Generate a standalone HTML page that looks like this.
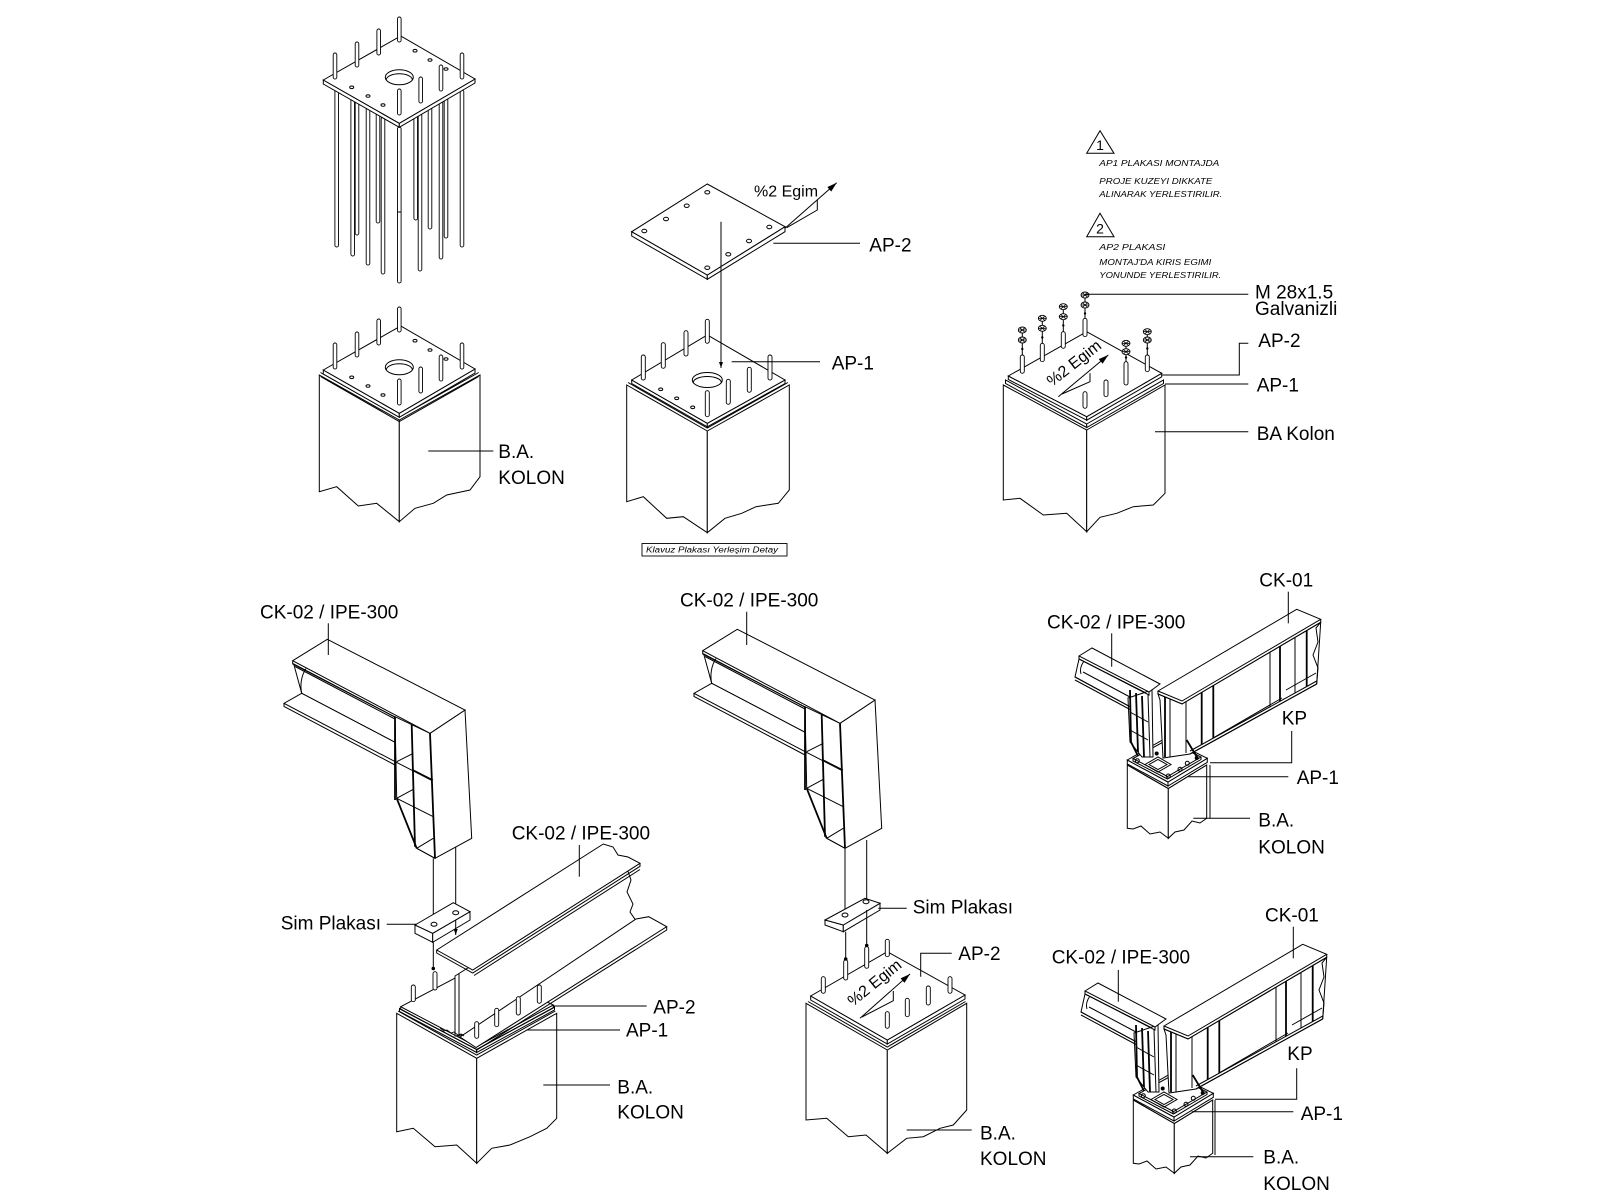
<!DOCTYPE html>
<html><head><meta charset="utf-8"><title>Ankraj Detaylari</title>
<style>
html,body{margin:0;padding:0;background:#fff;}
svg{display:block;}
text{font-family:"Liberation Sans",Arial,sans-serif;fill:#000;stroke:none;}
.l{font-size:19px;}
.n{font-size:8px;font-style:italic;}
.e{font-size:16px;}
.s{fill:#fff;stroke:#000;stroke-width:0.9;}
.w{fill:#fff;}
.t{stroke-width:1.8;}
.h{fill:none;stroke:#000;stroke-width:0.8;}
</style></head><body>
<svg width="1600" height="1200" viewBox="0 0 1600 1200" xmlns="http://www.w3.org/2000/svg" xmlns:xlink="http://www.w3.org/1999/xlink">
<defs>
<marker id="ah" markerUnits="userSpaceOnUse" markerWidth="10" markerHeight="8" refX="10" refY="4" orient="auto"><path d="M0,1 L10,4 L0,7z" fill="#000" stroke="none"/></marker>
<marker id="ah2" markerUnits="userSpaceOnUse" markerWidth="6" markerHeight="5" refX="6" refY="2.5" orient="auto"><path d="M0,0.5 L6,2.5 L0,4.5z" fill="#000" stroke="none"/></marker>
<g id="nut"><ellipse rx="4" ry="3" fill="#fff" stroke="#000" stroke-width="0.9"/><path d="M-4,0H4M-2.6,-2.2L2.6,2.2M-2.6,2.2L2.6,-2.2" stroke="#000" stroke-width="0.8" fill="none"/></g>
</defs>
<rect width="1600" height="1200" fill="#fff"/>

<g fill="none" stroke="#000" stroke-width="1">

<!-- ============ DRAWING 1 : anchor cage ============ -->
<g>
<rect class="s" x="355.2" y="100" width="3.6" height="135" rx="1.8"/>
<rect class="s" x="376.2" y="113" width="3.6" height="110" rx="1.8"/>
<rect class="s" x="413.9" y="113" width="3.6" height="107" rx="1.8"/>
<rect class="s" x="428.2" y="107" width="3.6" height="122" rx="1.8"/>
<rect class="s" x="444.2" y="97" width="3.6" height="141" rx="1.8"/>
<rect class="s" x="334.9" y="82" width="3.6" height="165" rx="1.8"/>
<rect class="s" x="350.9" y="97" width="3.6" height="159" rx="1.8"/>
<rect class="s" x="366.2" y="107" width="3.6" height="158" rx="1.8"/>
<rect class="s" x="381.2" y="117" width="3.6" height="157" rx="1.8"/>
<rect class="s" x="397.5" y="127" width="3.6" height="156" rx="1.8"/>
<rect class="s" x="418.2" y="110" width="3.6" height="161" rx="1.8"/>
<rect class="s" x="439.2" y="100" width="3.6" height="159" rx="1.8"/>
<rect class="s" x="460.2" y="90" width="3.6" height="157" rx="1.8"/>
<line x1="397.5" y1="212" x2="401.1" y2="212"/>
</g>
<g id="pl1">
<polygon class="w" points="323.3,80 399.3,123.3 399.3,127.3 323.3,84"/>
<polygon class="w" points="399.3,123.3 475,79 475,83 399.3,127.3"/>
<polygon class="w" points="323.3,80 400.7,36 475,79 399.3,123.3"/>
<ellipse cx="399.3" cy="77.3" rx="14" ry="7.5"/>
<path d="M386.3,79.8 A13,6 0 0 1 412.3,79.8"/>
<ellipse cx="415" cy="50.7" rx="2" ry="1.3"/>
<ellipse cx="430" cy="60" rx="2" ry="1.3"/>
<ellipse cx="446" cy="69" rx="2" ry="1.3"/>
<ellipse cx="351.7" cy="87.3" rx="2" ry="1.3"/>
<ellipse cx="368" cy="96" rx="2" ry="1.3"/>
<ellipse cx="383" cy="105" rx="2" ry="1.3"/>
<rect class="s" x="397.5" y="17" width="3.6" height="25" rx="1.8"/>
<rect class="s" x="376.9" y="29" width="3.6" height="26" rx="1.8"/>
<rect class="s" x="355.2" y="42" width="3.6" height="25" rx="1.8"/>
<rect class="s" x="333.2" y="53" width="3.6" height="26" rx="1.8"/>
<rect class="s" x="460.2" y="53" width="3.6" height="26" rx="1.8"/>
<rect class="s" x="439.2" y="65" width="3.6" height="26" rx="1.8"/>
<rect class="s" x="418.9" y="77" width="3.6" height="26" rx="1.8"/>
<rect class="s" x="397.5" y="89" width="3.6" height="26" rx="1.8"/>
</g>

<!-- ============ DRAWING 2 : column with plate ============ -->
<polygon class="w" points="319.3,375 399.3,420 399.3,521.7 376.7,503.3 358.3,506 336.7,486.7 319.3,491.7"/>
<polygon class="w" points="399.3,420 480,375 480,476.7 470,490 446.7,495 433.3,503.3 415,508.3 399.3,521.7"/>
<polyline points="320.5,376.5 399.3,421.5 478.7,376.5"/>
<polyline points="320.5,372.5 399.3,417 478.7,372.5"/>
<use xlink:href="#pl1" href="#pl1" x="0" y="290"/>
<line x1="428.3" y1="451" x2="493.3" y2="451"/>
<text class="l" x="498.3" y="458">B.A.</text>
<text class="l" x="498.3" y="484">KOLON</text>

<!-- ============ DRAWING 3 : AP-2 over AP-1 ============ -->
<polygon class="w" points="631.7,231.7 707.3,275 707.3,279.3 631.7,236"/>
<polygon class="w" points="707.3,275 785,226.7 785,231.7 707.3,279.3"/>
<polygon class="w" points="631.7,231.7 707.3,184 785,226.7 707.3,275"/>
<ellipse cx="707.3" cy="192.3" rx="2.5" ry="1.7"/>
<ellipse cx="686.7" cy="205.7" rx="2.5" ry="1.7"/>
<ellipse cx="666" cy="219" rx="2.5" ry="1.7"/>
<ellipse cx="644.3" cy="231" rx="2.5" ry="1.7"/>
<ellipse cx="769.3" cy="227" rx="2.5" ry="1.7"/>
<ellipse cx="749" cy="241" rx="2.5" ry="1.7"/>
<ellipse cx="728.3" cy="254.3" rx="2.5" ry="1.7"/>
<ellipse cx="707.3" cy="267.7" rx="2.5" ry="1.7"/>
<line x1="785" y1="228.3" x2="836.7" y2="182.7" marker-end="url(#ah)"/>
<polyline points="786.7,227.7 817.3,210 817.3,200"/>
<text class="e" x="754" y="196.5">%2 Egim</text>
<line x1="773.3" y1="243.3" x2="860" y2="243.3"/>
<text class="l" x="869.3" y="251.5">AP-2</text>

<polygon class="w" points="626.7,385 707.3,431 707.3,532.7 683.3,516.7 666.7,518.3 643.3,496.7 626.7,501.7"/>
<polygon class="w" points="707.3,431 789.3,385 789.3,490 778.3,503.3 756,506.7 741.7,513.3 725,518.3 707.3,532.7"/>
<polyline points="628,382.5 707.3,428 788,382.5"/>
<polygon class="w" points="631.7,380 707.3,423.3 707.3,426.8 631.7,383.5"/>
<polygon class="w" points="707.3,423.3 785,380 785,383.5 707.3,426.8"/>
<polygon class="w" points="631.7,380 707.3,335 785,380 707.3,423.3"/>
<ellipse cx="707.3" cy="380" rx="15" ry="7.5"/>
<path d="M693.3,382.5 A14,6 0 0 1 721.3,382.5"/>
<ellipse cx="660.7" cy="389.3" rx="2" ry="1.3"/>
<ellipse cx="676.7" cy="398.3" rx="2" ry="1.3"/>
<ellipse cx="692.7" cy="407.3" rx="2" ry="1.3"/>
<rect class="s" x="705.3" y="319.3" width="4" height="24" rx="2"/>
<rect class="s" x="684" y="330.7" width="4" height="25.3" rx="2"/>
<rect class="s" x="661.3" y="342.7" width="4" height="25.6" rx="2"/>
<rect class="s" x="641.3" y="355" width="4" height="25" rx="2"/>
<rect class="s" x="768" y="355" width="4" height="25" rx="2"/>
<rect class="s" x="747.3" y="367.3" width="4" height="25" rx="2"/>
<rect class="s" x="726.3" y="379.3" width="4" height="25" rx="2"/>
<rect class="s" x="705.3" y="390.7" width="4" height="26" rx="2"/>
<line x1="721" y1="221.7" x2="721" y2="368" marker-end="url(#ah2)"/>
<line x1="731.7" y1="361.7" x2="820" y2="361.7"/>
<text class="l" x="831.7" y="369.3">AP-1</text>
<rect x="642" y="543.5" width="145" height="12.5" stroke-width="0.9"/>
<text class="n" x="646" y="552.5" textLength="132" lengthAdjust="spacingAndGlyphs">Klavuz Plakası Yerleşim Detay</text>

<!-- ============ DRAWING 4 : notes + bolted column ============ -->
<polygon points="1086.7,153.3 1100,130.7 1114,153.3"/>
<text x="1100" y="150" font-size="14" text-anchor="middle">1</text>
<text class="n" x="1099.3" y="166" textLength="120" lengthAdjust="spacingAndGlyphs">AP1 PLAKASI MONTAJDA</text>
<text class="n" x="1099.3" y="184" textLength="113" lengthAdjust="spacingAndGlyphs">PROJE KUZEYI DIKKATE</text>
<text class="n" x="1099.3" y="197" textLength="123" lengthAdjust="spacingAndGlyphs">ALINARAK YERLESTIRILIR.</text>
<polygon points="1086.7,236.7 1100,213.3 1114,236.7"/>
<text x="1100" y="233.5" font-size="14" text-anchor="middle">2</text>
<text class="n" x="1099.3" y="250" textLength="66" lengthAdjust="spacingAndGlyphs">AP2 PLAKASI</text>
<text class="n" x="1099.3" y="265" textLength="112" lengthAdjust="spacingAndGlyphs">MONTAJ'DA KIRIS EGIMI</text>
<text class="n" x="1099.3" y="278" textLength="122" lengthAdjust="spacingAndGlyphs">YONUNDE YERLESTIRILIR.</text>

<polygon class="w" points="1003.3,385 1086.7,430 1086.7,531.7 1066.7,513.3 1043.3,515 1020,498.3 1003.3,500"/>
<polygon class="w" points="1086.7,430 1165,385 1165,493.3 1153.3,505 1133.3,506.7 1116.7,513.3 1100,517.3 1086.7,531.7"/>
<polygon class="w" points="1005.5,380 1086.7,424 1086.7,427.5 1005.5,383.5"/>
<polygon class="w" points="1086.7,424 1163.5,380 1163.5,383.5 1086.7,427.5"/>
<polygon class="w" points="1008.3,376 1086.7,416.7 1086.7,420.2 1008.3,379.5"/>
<polygon class="w" points="1086.7,416.7 1161.7,373.3 1161.7,376.8 1086.7,420.2"/>
<polygon class="w" points="1008.3,376 1086.7,331.7 1161.7,373.3 1086.7,416.7"/>
<!-- bolts -->
<line x1="1022.3" y1="327" x2="1022.3" y2="355"/>
<line x1="1042.3" y1="315.3" x2="1042.3" y2="343.3"/>
<line x1="1063.3" y1="303.7" x2="1063.3" y2="331.7"/>
<line x1="1085" y1="292" x2="1085" y2="318.3"/>
<line x1="1126" y1="340.3" x2="1126" y2="361.7"/>
<line x1="1147.3" y1="328.7" x2="1147.3" y2="355"/>
<use xlink:href="#nut" href="#nut" x="1022.3" y="330"/><use xlink:href="#nut" href="#nut" x="1022.3" y="340"/>
<use xlink:href="#nut" href="#nut" x="1042.3" y="318.3"/><use xlink:href="#nut" href="#nut" x="1042.3" y="328.3"/>
<use xlink:href="#nut" href="#nut" x="1063.3" y="306.7"/><use xlink:href="#nut" href="#nut" x="1063.3" y="316.7"/>
<use xlink:href="#nut" href="#nut" x="1085" y="295"/><use xlink:href="#nut" href="#nut" x="1085" y="305"/>
<use xlink:href="#nut" href="#nut" x="1126" y="343.3"/><use xlink:href="#nut" href="#nut" x="1126" y="351.7"/>
<use xlink:href="#nut" href="#nut" x="1147.3" y="331.7"/><use xlink:href="#nut" href="#nut" x="1147.3" y="340"/>
<g fill="#000" stroke="none">
<circle cx="1022.3" cy="349" r="1.2"/><circle cx="1042.3" cy="337.5" r="1.2"/><circle cx="1063.3" cy="325.5" r="1.2"/><circle cx="1085" cy="313.5" r="1.2"/><circle cx="1126" cy="357.5" r="1.2"/><circle cx="1147.3" cy="348.5" r="1.2"/>
</g>
<rect class="s" x="1020.3" y="355" width="4" height="18.3" rx="2"/>
<rect class="s" x="1040.3" y="343.3" width="4" height="18.4" rx="2"/>
<rect class="s" x="1061.3" y="331.7" width="4" height="16.6" rx="2"/>
<rect class="s" x="1083" y="318.3" width="4" height="18.4" rx="2"/>
<rect class="s" x="1124" y="361.7" width="4" height="23.3" rx="2"/>
<rect class="s" x="1145.3" y="355" width="4" height="16.7" rx="2"/>
<rect class="s" x="1104" y="380" width="4" height="16.7" rx="2"/>
<rect class="s" x="1083" y="391.7" width="4" height="16.6" rx="2"/>
<line x1="1058.3" y1="396.7" x2="1108.3" y2="355" marker-end="url(#ah)"/>
<polyline points="1062,394 1090,381.7 1090,373.3"/>
<text class="e" transform="translate(1052,387) rotate(-38)">%2 Egim</text>
<line x1="1085" y1="294.3" x2="1248.3" y2="294.3"/>
<text class="l" x="1255" y="298.5">M 28x1.5</text>
<text class="l" x="1255" y="315">Galvanizli</text>
<polyline points="1161.7,375 1239.3,375 1239.3,343.3 1248.3,343.3"/>
<text class="l" x="1258.3" y="347">AP-2</text>
<line x1="1165" y1="384" x2="1248.3" y2="384"/>
<text class="l" x="1256.7" y="391.7">AP-1</text>
<line x1="1155" y1="431.7" x2="1248.3" y2="431.7"/>
<text class="l" x="1256.7" y="440">BA Kolon</text>

<!-- ============ upper beam + bracket (drawing 6 coords) ============ -->
<g id="bk6">
<polygon class="w" points="703.7,654 805,707 805,732.3 711.7,683.3"/>
<polygon class="w" points="711.7,683.3 805,732.3 805,751.6 694,693.3"/>
<polyline points="694,693.3 694,696.5 805,755"/>
<path d="M716,658.5 C711,666 710,676 711.7,683.3"/>
<polygon class="w" points="805,706.7 840,723.3 845,848.3 826.7,838.3 806.7,788.3"/>
<polygon class="w" points="840,723.3 875,700 881.7,828.3 845,848.3"/>
<polygon class="w" points="702.7,650.7 737.3,629.3 875,700 840,723.3"/>
<polyline points="702.7,650.7 702.7,654 805,707"/>
<line x1="705" y1="656.5" x2="805" y2="709"/>
<line class="t" x1="805" y1="706.7" x2="805" y2="790"/>
<line class="t" x1="821.7" y1="715" x2="825" y2="836.7"/>
<line class="t" x1="840" y1="723.3" x2="845" y2="848.3"/>
<line class="t" x1="806.7" y1="788.3" x2="826.7" y2="838.3"/>
<line x1="805" y1="751.6" x2="842" y2="770.5"/>
<line x1="806.7" y1="751.7" x2="823.3" y2="743.3"/>
<line x1="823.3" y1="760" x2="843" y2="770"/>
<line x1="806.7" y1="788.3" x2="823.3" y2="779.3"/>
<line x1="806.7" y1="788.3" x2="843.3" y2="806.7"/>
<line x1="826.7" y1="838.3" x2="843.3" y2="828.3"/>
<line x1="826.7" y1="838.3" x2="845" y2="848.3"/>
</g>
<use xlink:href="#bk6" href="#bk6" transform="translate(-410,10)"/>

<!-- ============ DRAWING 5 : beam on column ============ -->
<text class="l" x="260" y="618.3">CK-02 / IPE-300</text>
<line x1="328.3" y1="623.3" x2="328.3" y2="655"/>
<!-- column -->
<polygon class="w" points="396.7,1013.3 476.7,1058.3 476.7,1163.3 456.7,1145 435,1146.7 413.3,1128.3 396.7,1131.7"/>
<polygon class="w" points="476.7,1058.3 556.7,1013.3 556.7,1118.3 546.7,1128.3 530,1136.7 510,1145 491.7,1148.3 476.7,1163.3"/>
<polyline points="398,1011 476.7,1055 555.3,1011"/>
<polygon class="w" points="399.5,1008.5 476.7,1049.5 476.7,1052.5 399.5,1011.5"/>
<polygon class="w" points="476.7,1049.5 554.5,1007 554.5,1010 476.7,1052.5"/>
<polygon class="w" points="400.7,1006.7 476.7,966.7 553.3,1005 476.7,1046.7"/>
<polyline points="400.7,1006.7 400.7,1009.5 476.7,1049.5 553.3,1008 553.3,1005"/>
<rect class="s" x="411.3" y="985" width="4" height="16.7" rx="2"/>
<rect class="s" x="433" y="971.7" width="4" height="18.3" rx="2"/>
<!-- lower beam -->
<polygon class="w" points="455,976 627,868.5 631,880 627,892 633,904 630,912 638,923.5 464,1034.5 455,1036"/>
<polygon class="w" points="636,919 648.7,916.7 666.7,926.7 476,1047.5 460,1037"/>
<polyline points="666.7,926.7 666.7,930 476,1050.5"/>
<line x1="455" y1="976" x2="455" y2="1036"/>
<line x1="459" y1="974" x2="459" y2="1037"/>
<path d="M440,1028 l4,3 l3,-1 l4,3 l3,-1 l4,3 l3,-1 l3,2" class="h"/>
<polygon class="w" points="436.7,950 603.3,844 613,847 618,855 628,857 640,863.3 472.7,970"/>
<polyline points="436.7,950 436.7,953 472.7,973 640,866.3 640,863.3"/>
<line x1="474" y1="975.5" x2="640" y2="869.5"/>
<rect class="s" x="474.7" y="1021.7" width="4" height="16.6" rx="2"/>
<rect class="s" x="494.7" y="1008.3" width="4" height="18.4" rx="2"/>
<rect class="s" x="516.3" y="996.7" width="4" height="18.3" rx="2"/>
<rect class="s" x="537.3" y="985" width="4" height="18.3" rx="2"/>
<!-- sim plate -->
<line x1="433.3" y1="858.3" x2="433.3" y2="925"/>
<line x1="455.7" y1="846.7" x2="455.7" y2="913"/>
<polygon class="w" points="415,925 432.7,933.3 432.7,942.3 415,933.3"/>
<polygon class="w" points="432.7,933.3 470,911.7 470,920 432.7,942.3"/>
<polygon class="w" points="415,925 453.3,902.7 470,911.7 432.7,933.3"/>
<ellipse cx="434" cy="924.3" rx="3" ry="2"/>
<ellipse cx="455.7" cy="912.7" rx="3" ry="2"/>
<line x1="433.3" y1="942.3" x2="433.3" y2="968"/>
<circle cx="433.3" cy="968.5" r="1.3" fill="#000"/>
<line x1="455.7" y1="920" x2="455.7" y2="935" marker-end="url(#ah2)"/>
<line x1="386.7" y1="924.3" x2="416.7" y2="924.3"/>
<text class="l" x="280.7" y="929.3">Sim Plakası</text>
<text class="l" x="511.7" y="839.3">CK-02 / IPE-300</text>
<line x1="579.3" y1="845" x2="579.3" y2="876.7"/>
<line x1="553.3" y1="1006" x2="646.7" y2="1006"/>
<text class="l" x="653.3" y="1013.3">AP-2</text>
<line x1="526.7" y1="1030" x2="620" y2="1030"/>
<text class="l" x="626" y="1036.7">AP-1</text>
<line x1="543.3" y1="1085" x2="610" y2="1085"/>
<text class="l" x="617.3" y="1093.3">B.A.</text>
<text class="l" x="617.3" y="1118.3">KOLON</text>

<!-- ============ DRAWING 6 ============ -->
<text class="l" x="680" y="606.7">CK-02 / IPE-300</text>
<line x1="746.7" y1="611.7" x2="746.7" y2="645"/>
<line x1="845" y1="848.3" x2="845" y2="915"/>
<line x1="866.7" y1="840" x2="866.7" y2="901.7"/>
<polygon class="w" points="825,920 843.3,925 843.3,931.7 825,925"/>
<polygon class="w" points="843.3,925 880,903.3 880,910 843.3,931.7"/>
<polygon class="w" points="825,920 865,898.3 880,903.3 843.3,925"/>
<ellipse cx="845" cy="915" rx="3" ry="2"/>
<ellipse cx="866" cy="901.7" rx="3" ry="2"/>
<line x1="878.3" y1="908.3" x2="906.7" y2="908.3"/>
<text class="l" x="912.7" y="913.3">Sim Plakası</text>
<!-- column -->
<polygon class="w" points="806,1003.3 887.3,1050 887.3,1153.3 866,1135 848.3,1136.7 826.7,1118.3 806,1120"/>
<polygon class="w" points="887.3,1050 966.7,1003.3 966.7,1110 953.3,1125 940,1128.3 923.3,1136.7 906.7,1138.3 887.3,1153.3"/>
<polyline points="808,1001.5 887.3,1047 965.5,1001.5"/>
<polygon class="w" points="810.7,996 887.3,1040 887.3,1044 810.7,1000"/>
<polygon class="w" points="887.3,1040 965,995 965,999 887.3,1044"/>
<polygon class="w" points="810.7,996 887.3,951.7 965,995 887.3,1040"/>
<line x1="845.7" y1="931.7" x2="845.7" y2="958.5"/>
<line x1="866.7" y1="910" x2="866.7" y2="945"/>
<circle cx="845.7" cy="959" r="1.3" fill="#000"/>
<circle cx="866.7" cy="945.5" r="1.3" fill="#000"/>
<rect class="s" x="885.3" y="939.3" width="4" height="17.4" rx="2"/>
<rect class="s" x="864.7" y="946.7" width="4" height="21.6" rx="2"/>
<rect class="s" x="843.7" y="960" width="4" height="20" rx="2"/>
<rect class="s" x="821.3" y="976.7" width="4" height="16.6" rx="2"/>
<rect class="s" x="948" y="976.7" width="4" height="16.6" rx="2"/>
<rect class="s" x="926.3" y="986" width="4" height="19" rx="2"/>
<rect class="s" x="905.3" y="998.3" width="4" height="18.4" rx="2"/>
<rect class="s" x="885.3" y="1011.7" width="4" height="16.6" rx="2"/>
<line x1="860" y1="1018.3" x2="910" y2="974" marker-end="url(#ah)"/>
<polyline points="862,1017 893.3,1000.7 893.3,991"/>
<text class="e" transform="translate(853,1007) rotate(-39)">%2 Egim</text>
<polyline points="920.7,976.7 920.7,953.3 951.7,953.3"/>
<text class="l" x="958.3" y="960">AP-2</text>
<line x1="906.7" y1="1130" x2="971.7" y2="1130"/>
<text class="l" x="980" y="1139.3">B.A.</text>
<text class="l" x="980" y="1165">KOLON</text>

<!-- ============ DRAWING 7 (reused for 8) ============ -->
<g id="g7">
<polygon class="w" points="1127.3,765 1168.3,788.5 1168.3,838.3 1160,832 1150,834 1141,826 1133,829 1127.3,828.3"/>
<polygon class="w" points="1168.3,788.5 1206.7,765 1206.7,818.3 1200,823 1192,821 1184,830 1175,832 1168.3,838.3"/>
<polyline points="1127.3,765 1168.3,788.5 1206.7,765"/>
<polygon class="w" points="1127.3,760 1168,782 1168,786 1127.3,764"/>
<polygon class="w" points="1168,782 1207.3,758.3 1207.3,762.3 1168,786"/>
<polygon class="w" points="1127.3,760 1166,738 1207.3,758.3 1168,782"/>
<polygon class="w" points="1133,758.5 1167,740 1201,757 1167.5,776.5"/>
<polyline points="1133,758.5 1133,761 1167.5,779 1201,759.5 1201,757"/>
<polygon points="1145,764.5 1158,757 1171,764.5 1158,772"/>
<polygon points="1149,764.5 1158,759.5 1167,764.5 1158,769.5"/>
<circle cx="1137.3" cy="760.7" r="2"/>
<circle cx="1180" cy="769.3" r="2"/>
<circle cx="1187.3" cy="763.3" r="2"/>
<circle cx="1168.3" cy="776" r="2"/>
<circle cx="1196.7" cy="758" r="1.5" fill="#000"/>
<circle cx="1156.7" cy="753.5" r="1.5" fill="#000"/>
<!-- CK-02 short beam -->
<polygon class="w" points="1079,659 1150,695 1150,716 1130,706.7 1075,677"/>
<polygon class="w" points="1128,698 1152,690 1153,757 1142,757 1130,742"/>
<polygon class="w" points="1079,656 1092,648 1160,684 1149,692"/>
<polyline points="1079,656 1079,659 1149,695 1149,692"/>
<line x1="1075" y1="677" x2="1130" y2="706.7"/>
<line x1="1075" y1="680" x2="1130" y2="709.5"/>
<line x1="1083" y1="672" x2="1130" y2="697"/>
<path d="M1084,661 Q1079,668 1081,674"/>
<line class="t" x1="1130" y1="690" x2="1131" y2="742"/>
<line class="t" x1="1136" y1="693" x2="1138" y2="752"/>
<line class="t" x1="1142" y1="696" x2="1144" y2="757"/>
<line x1="1148" y1="695" x2="1150" y2="757"/>
<line class="t" x1="1131" y1="742" x2="1138" y2="756"/>
<line x1="1130" y1="712" x2="1148" y2="722"/>
<line x1="1130" y1="730" x2="1148" y2="740"/>
<!-- CK-01 beam -->
<polygon class="w" points="1158,694 1182,704 1320.7,622.3 1316.7,684 1190,754 1163,758 1160,700"/>
<polygon class="w" points="1158,691 1296.7,609.3 1320.7,619.3 1182,701"/>
<polyline points="1158,691 1158,694 1182,704 1320.7,622.3 1320.7,619.3"/>
<line x1="1190" y1="751" x2="1316.7" y2="681"/>
<line x1="1190" y1="754" x2="1316.7" y2="684"/>
<line x1="1213" y1="738" x2="1282" y2="698"/>
<line x1="1286" y1="690" x2="1316" y2="673"/>
<polyline points="1320.7,622.3 1316,628 1318,642 1313,655 1318,668 1316.7,684"/>
<line class="t" x1="1165" y1="697" x2="1165" y2="757"/>
<line x1="1170" y1="699" x2="1170" y2="757"/>
<line x1="1186" y1="701.6" x2="1186" y2="753"/>
<line class="t" x1="1201.7" y1="692.4" x2="1201.7" y2="744.5"/>
<line class="t" x1="1213.3" y1="685.6" x2="1213.3" y2="738.1"/>
<line x1="1270" y1="652.2" x2="1270" y2="706.7"/>
<line class="t" x1="1280" y1="646.3" x2="1280" y2="701.2"/>
<line x1="1295" y1="637.4" x2="1295" y2="692.9"/>
<line class="t" x1="1306.7" y1="630.6" x2="1306.7" y2="686.4"/>
<line class="t" x1="1186.7" y1="740" x2="1196.7" y2="756.7"/>
</g>
<use xlink:href="#g7" href="#g7" x="6" y="335"/>

<!-- drawing 7 labels -->
<text class="l" x="1259.3" y="586.7">CK-01</text>
<line x1="1288.3" y1="591.7" x2="1288.3" y2="623.3"/>
<text class="l" x="1047" y="628.3">CK-02 / IPE-300</text>
<line x1="1111.7" y1="633.3" x2="1111.7" y2="666.7"/>
<text class="l" x="1281.7" y="724.3">KP</text>
<polyline points="1291.7,731 1291.7,762.7 1210,762.7"/>
<line x1="1188.3" y1="776.7" x2="1288.3" y2="776.7"/>
<text class="l" x="1296.7" y="784">AP-1</text>
<line x1="1210" y1="765" x2="1210" y2="818.3"/>
<line x1="1193.3" y1="818.3" x2="1250" y2="818.3"/>
<text class="l" x="1258.3" y="826.7">B.A.</text>
<text class="l" x="1258.3" y="853.3">KOLON</text>

<!-- drawing 8 labels -->
<text class="l" x="1265" y="921.7">CK-01</text>
<line x1="1293.3" y1="926.7" x2="1293.3" y2="958.3"/>
<text class="l" x="1051.7" y="963.3">CK-02 / IPE-300</text>
<line x1="1118.3" y1="970" x2="1118.3" y2="1001.7"/>
<text class="l" x="1287.3" y="1060">KP</text>
<polyline points="1296.7,1068.3 1296.7,1099.3 1215,1099.3"/>
<line x1="1191.7" y1="1111.7" x2="1293.3" y2="1111.7"/>
<text class="l" x="1300.7" y="1120">AP-1</text>
<line x1="1215" y1="1100" x2="1215" y2="1155"/>
<line x1="1190" y1="1156.7" x2="1253.3" y2="1156.7"/>
<text class="l" x="1263.3" y="1163.3">B.A.</text>
<text class="l" x="1263.3" y="1190">KOLON</text>

</g>
</svg>
</body></html>
